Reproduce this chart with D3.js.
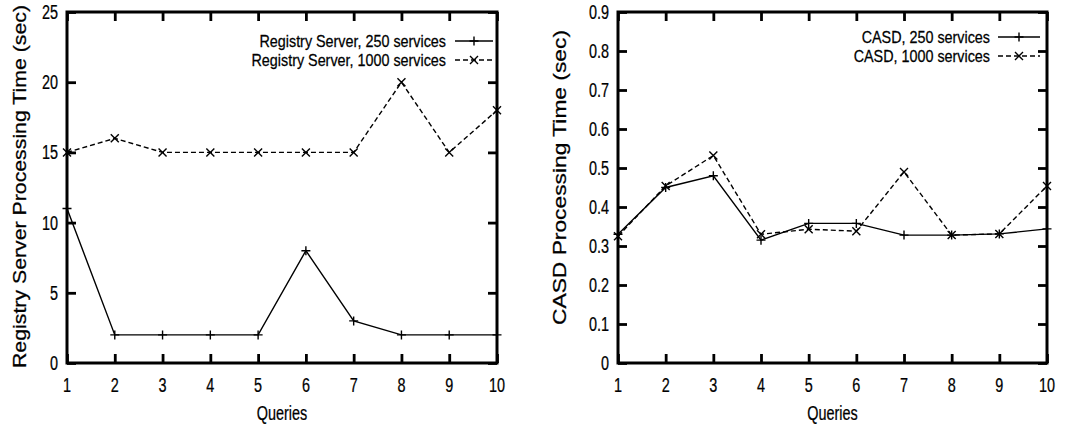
<!DOCTYPE html>
<html><head><meta charset="utf-8">
<script src="https://cdn.jsdelivr.net/npm/d3@7"></script>
<style>
body{margin:0;background:#fff}
text{font-family:"Liberation Sans",Arial,Helvetica,sans-serif;fill:#000;stroke:#000;stroke-width:0.25}
</style>
</head><body>
<svg id="c" width="1074" height="427"></svg>
<script>
// ---- data ----
const queries = [1,2,3,4,5,6,7,8,9,10];
const registry250  = [11,2,2,2,2,8,3,2,2,2];
const registry1000 = [15,16,15,15,15,15,15,20,15,18];
const casd250  = [0.33,0.45,0.48,0.315,0.358,0.358,0.328,0.328,0.331,0.344];
const casd1000 = [0.325,0.454,0.532,0.33,0.343,0.338,0.49,0.328,0.331,0.454];
const regTicks  = [0,5,10,15,20,25];
const casdTicks = [0,0.1,0.2,0.3,0.4,0.5,0.6,0.7,0.8,0.9];
const regLabels  = ["Registry Server, 250 services","Registry Server, 1000 services"];
const casdLabels = ["CASD, 250 services","CASD, 1000 services"];

const svg = d3.select("#c");
const FS = 19.5, SX = 0.74;      // tick labels / axis label
const LFS = 16.5, LSX = 0.87;    // legend

function txt(g, s, x, y, anchor, fs=FS, sx=SX){
  return g.append("text").attr("transform",`translate(${x},${y}) scale(${sx},1)`)
    .attr("text-anchor",anchor).attr("font-size",fs).text(s);
}

const panels = [
  {x0:67, x1:497, ymax:25, ticks:regTicks, fmt:d3.format("d"),
   s250:registry250, s1000:registry1000, labels:regLabels,
   title:"Registry Server Processing Time (sec)", tX:26, tCY:186.5, tLen:363,
   legEnd:446, sx0:455, sx1:493, legY:[41,60]},
  {x0:618, x1:1047, ymax:0.9, ticks:casdTicks, fmt:d=>d===0?"0":d3.format(".1f")(d),
   s250:casd250, s1000:casd1000, labels:casdLabels,
   title:"CASD Processing Time (sec)", tX:566, tCY:177.5, tLen:295,
   legEnd:990, sx0:998, sx1:1040, legY:[37,56]}
];
const yTop = 12, yBot = 363;

function plus(g, x, y, r){
  g.append("path").attr("d",`M${x-r},${y}H${x+r}M${x},${y-r}V${y+r}`)
   .attr("stroke","#000").attr("stroke-width",1.4).attr("fill","none");
}
function cross(g, x, y, r){
  g.append("path").attr("d",`M${x-r},${y-r}L${x+r},${y+r}M${x-r},${y+r}L${x+r},${y-r}`)
   .attr("stroke","#000").attr("stroke-width",1.4).attr("fill","none");
}

panels.forEach(p=>{
  const g = svg.append("g");
  const x = d3.scaleLinear().domain([1,10]).range([p.x0,p.x1]);
  const y = d3.scaleLinear().domain([0,p.ymax]).range([yBot,yTop]);
  const TL = 9;

  const axB = g.append("g").attr("transform",`translate(0,${yBot})`)
    .call(d3.axisBottom(x).tickValues(queries).tickSizeInner(-TL).tickSizeOuter(0).tickFormat(""));
  const axT = g.append("g").attr("transform",`translate(0,${yTop})`)
    .call(d3.axisTop(x).tickValues(queries).tickSizeInner(-TL).tickSizeOuter(0).tickFormat(""));
  const axL = g.append("g").attr("transform",`translate(${p.x0},0)`)
    .call(d3.axisLeft(y).tickValues(p.ticks).tickSizeInner(-TL).tickSizeOuter(0).tickFormat(""));
  const axR = g.append("g").attr("transform",`translate(${p.x1},0)`)
    .call(d3.axisRight(y).tickValues(p.ticks).tickSizeInner(-TL).tickSizeOuter(0).tickFormat(""));
  [axB,axT,axL,axR].forEach(a=>{
    a.select(".domain").remove();
    a.selectAll(".tick line").attr("stroke","#000").attr("stroke-width",2.8);
  });
  g.append("rect").attr("x",p.x0).attr("y",yTop).attr("width",p.x1-p.x0).attr("height",yBot-yTop)
   .attr("fill","none").attr("stroke","#000").attr("stroke-width",3);

  queries.forEach(q=>txt(g, String(q), x(q), yBot+29, "middle"));
  p.ticks.forEach(t=>txt(g, p.fmt(t), p.x0-9, y(t)+7, "end"));

  g.append("text").attr("transform",`translate(${p.tX},${p.tCY}) rotate(-90)`)
    .attr("text-anchor","middle").attr("font-size",18)
    .attr("textLength",p.tLen).attr("lengthAdjust","spacingAndGlyphs").text(p.title);
  txt(g, "Queries", (p.x0+p.x1)/2, 420, "middle");

  const line = d3.line().x((d,i)=>x(queries[i])).y(d=>y(d));
  g.append("path").datum(p.s250).attr("d",line).attr("fill","none")
   .attr("stroke","#000").attr("stroke-width",1.4);
  g.append("path").datum(p.s1000).attr("d",line).attr("fill","none")
   .attr("stroke","#000").attr("stroke-width",1.4).attr("stroke-dasharray","5,3");
  p.s250.forEach((d,i)=>plus(g, x(queries[i]), y(d), 4.5));
  p.s1000.forEach((d,i)=>cross(g, x(queries[i]), y(d), 4));

  p.labels.forEach((l,i)=>txt(g, l, p.legEnd, p.legY[i]+6, "end", LFS, LSX));
  const ly0 = p.legY[0], ly1 = p.legY[1], mx=(p.sx0+p.sx1)/2;
  g.append("line").attr("x1",p.sx0).attr("x2",p.sx1).attr("y1",ly0).attr("y2",ly0)
   .attr("stroke","#000").attr("stroke-width",1.4);
  plus(g, mx, ly0, 4.5);
  g.append("line").attr("x1",p.sx0).attr("x2",p.sx1).attr("y1",ly1).attr("y2",ly1)
   .attr("stroke","#000").attr("stroke-width",1.4).attr("stroke-dasharray","5,3");
  cross(g, mx, ly1, 4);
});
</script>
</body></html>
